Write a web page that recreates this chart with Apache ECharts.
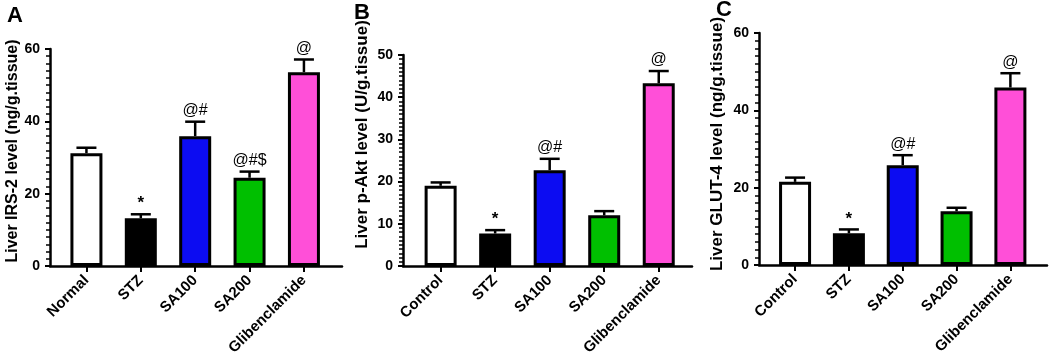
<!DOCTYPE html>
<html>
<head>
<meta charset="utf-8">
<script src="https://cdn.jsdelivr.net/npm/echarts@6/dist/echarts.min.js"></script>
<style>
  html, body { margin: 0; padding: 0; background: #fff; }
  #chart { width: 1052px; height: 359px; }
</style>
</head>
<body>
<div id="chart"></div>
<script>
// group names and bar colours
const groupsA = ['Normal', 'STZ', 'SA100', 'SA200', 'Glibenclamide']
const groupsBC = ['Control', 'STZ', 'SA100', 'SA200', 'Glibenclamide']
const barColors = ['#ffffff', '#000000', '#0c0cf2', '#00bf00', '#ff4fd8']

// panel A - IRS-2
const irsMean = [31.2, 13.2, 35.9, 24.4, 53.6]
const irsUpper = [32.7, 14.3, 39.9, 26.1, 57.1]
const irsNotes = ['', '*', '@#', '@#$', '@']

// panel B - p-Akt
const aktMean = [19.0, 7.7, 22.7, 12.0, 43.3]
const aktUpper = [19.8, 8.5, 25.4, 13.0, 46.2]
const aktNotes = ['', '*', '@#', '', '@']

// panel C - GLUT-4
const glutMean = [21.5, 8.2, 25.8, 13.9, 45.9]
const glutUpper = [22.6, 9.2, 28.4, 14.8, 49.6]
const glutNotes = ['', '*', '@#', '', '@']

const FONT = 'Liberation Sans, Arial, sans-serif'

const panels = [
  { letter: 'A', groups: groupsA, mean: irsMean, upper: irsUpper, notes: irsNotes,
    yName: 'Liver IRS-2 level (ng/g.tissue)', yMax: 60, yStep: 20,
    nameSize: 16, nameShift: 13, nameGap: 28,
    grid: { left: 50, width: 292, top: 49, height: 217 }, xMin: -0.67, xMax: 4.7, letterPos: [7, 5] },
  { letter: 'B', groups: groupsBC, mean: aktMean, upper: aktUpper, notes: aktNotes,
    yName: 'Liver p-Akt level (U/g.tissue)', yMax: 50, yStep: 10,
    nameSize: 17, nameShift: 52, nameGap: 32,
    grid: { left: 403, width: 289, top: 55, height: 211 }, xMin: -0.69, xMax: 4.61, letterPos: [354, 2] },
  { letter: 'C', groups: groupsBC, mean: glutMean, upper: glutUpper, notes: glutNotes,
    yName: 'Liver GLUT-4 level (ng/g.tissue)', yMax: 60, yStep: 20,
    nameSize: 17, nameShift: 10, nameGap: 33,
    grid: { left: 759, width: 288, top: 33, height: 232 }, xMin: -0.67, xMax: 4.68, letterPos: [716, -1] }
]

const chart = echarts.init(document.getElementById('chart'))

const idx = [0, 1, 2, 3, 4]

const option = {
  backgroundColor: '#fff',
  animation: false,
  title: panels.map(p => ({
    text: p.letter, left: p.letterPos[0], top: p.letterPos[1], padding: 0,
    textStyle: { fontFamily: FONT, fontWeight: 'bold', fontSize: 22, color: '#000' }
  })),
  grid: panels.map(p => p.grid),
  xAxis: panels.map((p, i) => ({
    type: 'value', gridIndex: i, min: p.xMin, max: p.xMax,
    splitLine: { show: false },
    axisLine: { show: true, onZero: false, lineStyle: { color: '#000', width: 2.5 } },
    axisTick: { show: true, customValues: idx, length: 6, lineStyle: { color: '#000', width: 2 } },
    axisLabel: {
      customValues: idx, rotate: 45, margin: 12,
      formatter: v => p.groups[Math.round(v)],
      fontFamily: FONT, fontWeight: 'bold', fontSize: 15, color: '#000'
    }
  })),
  yAxis: panels.map((p, i) => ({
    type: 'value', gridIndex: i, min: 0, max: p.yMax, interval: p.yStep,
    name: p.yName, nameLocation: 'middle', nameGap: p.nameGap,
    nameTextStyle: {
      fontFamily: FONT, fontWeight: 'bold', fontSize: p.nameSize, color: '#000',
      padding: [0, 0, 0, p.nameShift]
    },
    splitLine: { show: false },
    axisLine: { show: true, onZero: false, lineStyle: { color: '#000', width: 2.5 } },
    axisTick: { show: true, length: 5, lineStyle: { color: '#000', width: 2 } },
    minorTick: { show: true, splitNumber: 10, length: 4, lineStyle: { color: '#000', width: 1.5 } },
    axisLabel: { margin: 10, fontFamily: FONT, fontWeight: 'bold', fontSize: 14, color: '#000' }
  })),
  series: []
}

panels.forEach((p, i) => {
  option.series.push({
    type: 'bar', xAxisIndex: i, yAxisIndex: i, barWidth: 32, z: 2,
    data: p.mean.map((v, k) => ({
      value: [k, v],
      itemStyle: { color: barColors[k], borderColor: '#000', borderWidth: 3 }
    }))
  })
  option.series.push({
    type: 'custom', xAxisIndex: i, yAxisIndex: i, z: 3,
    encode: { x: 0, y: [1, 2] },
    data: p.mean.map((v, k) => [k, v, p.upper[k]]),
    renderItem: (params, api) => {
      const k = params.dataIndex
      const base = api.coord([api.value(0), api.value(1)])
      const top = api.coord([api.value(0), api.value(2)])
      const note = p.notes[k]
      const children = [
        { type: 'line', shape: { x1: base[0], y1: base[1], x2: top[0], y2: top[1] },
          style: { stroke: '#000', lineWidth: 2.5 } },
        { type: 'line', shape: { x1: top[0] - 10, y1: top[1], x2: top[0] + 10, y2: top[1] },
          style: { stroke: '#000', lineWidth: 2.5 } }
      ]
      if (note) {
        const star = note === '*'
        children.push({
          type: 'text', x: top[0], y: top[1] - (star ? 2 : 3),
          style: {
            text: note, align: 'center', verticalAlign: 'bottom',
            font: (star ? 'bold 17px ' : '16px ') + FONT, fill: '#000'
          }
        })
      }
      return { type: 'group', children }
    }
  })
})

chart.setOption(option)
</script>
</body>
</html>
